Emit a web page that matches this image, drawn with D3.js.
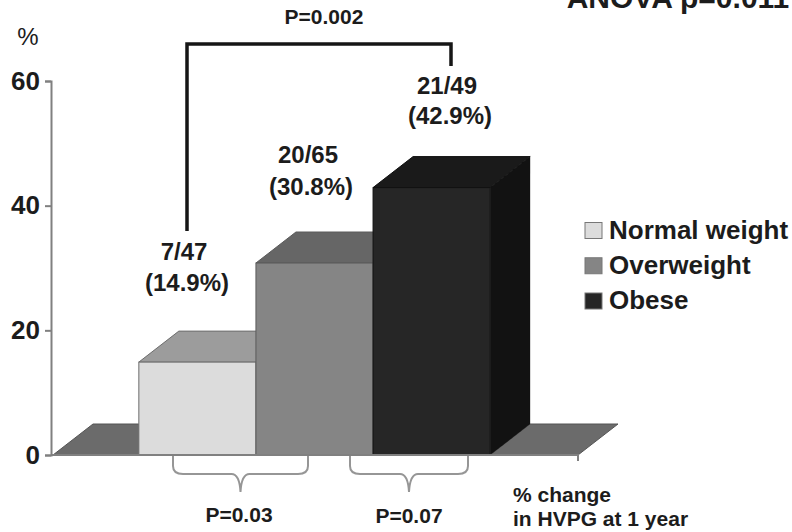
<!DOCTYPE html>
<html>
<head>
<meta charset="utf-8">
<script src="https://cdn.jsdelivr.net/npm/d3@7/dist/d3.min.js"></script>
<style>
html,body{margin:0;padding:0;background:#fff}
text{font-family:"Liberation Sans",Arial,sans-serif;font-weight:bold;fill:#1c1c1c}
</style>
</head>
<body>
<svg id="chart" width="792" height="532"></svg>
<script>
// HVPG response by body-weight group
const categories = ["Normal weight", "Overweight", "Obese"];
const percents = [14.9, 30.8, 42.9];
const counts = ["7/47", "20/65", "21/49"];
const yTicks = [0, 20, 40, 60];
const frontColors = ["#dcdcdc", "#858585", "#262626"];
const topColors = ["#9c9c9c", "#666666", "#1a1a1a"];
const sideColors = ["#a8a8a8", "#5c5c5c", "#121212"];
const edgeColors = ["#6e6e6e", "#5a5a5a", "#111111"];

const svg = d3.select("#chart");
const x = d3.scaleBand().domain(categories).range([51, 578]).paddingInner(0).paddingOuter(0.75);
const y = d3.scaleLinear().domain([0, 60]).range([455, 81]);

// Oblique offset used for the 3-D depth of bars and floor
const depthX = 40, depthY = -31;
const poly = pts => pts.map(p => p.join(",")).join(" ");
const floorColor = "#6b6b6b";

// Floor strips either side of the bars
const barsLeft = x(categories[0]);
const barsRight = x(categories[2]) + x.bandwidth();
svg.append("polygon")
  .attr("points", poly([[x.range()[0] + 2, y(0)], [x.range()[0] + 2 + depthX, y(0) + depthY], [barsLeft, y(0) + depthY], [barsLeft, y(0)]]))
  .attr("fill", floorColor).attr("stroke", "#555").attr("stroke-width", 1);
svg.append("polygon")
  .attr("points", poly([[barsRight, y(0)], [barsRight + depthX, y(0) + depthY], [x.range()[1] + depthX, y(0) + depthY], [x.range()[1], y(0)]]))
  .attr("fill", floorColor).attr("stroke", "#555").attr("stroke-width", 1);

// Axes
const yAxis = d3.axisLeft(y).tickValues(yTicks).tickSize(6).tickPadding(4);
const gy = svg.append("g").attr("transform", `translate(${x.range()[0]},0)`).call(yAxis);
gy.selectAll("path,line").attr("stroke", "#808080").attr("stroke-width", 2);
gy.selectAll("text").attr("font-size", 26).style("font-family", '"Liberation Sans",Arial,sans-serif').style("font-weight", "bold").attr("fill", "#1c1c1c").attr("dx", -1);

// Bars: side and top faces first, then the front
const bars = svg.append("g").selectAll("g").data(categories).join("g");
bars.append("polygon")
  .attr("points", (c, i) => {
    const r = x(c) + x.bandwidth(), t = y(percents[i]);
    return poly([[r, t], [r + depthX, t + depthY], [r + depthX, y(0) + depthY], [r, y(0)]]);
  })
  .attr("fill", (c, i) => sideColors[i]);
bars.append("polygon")
  .attr("points", (c, i) => {
    const l = x(c), r = l + x.bandwidth(), t = y(percents[i]);
    return poly([[l, t], [l + depthX, t + depthY], [r + depthX, t + depthY], [r, t]]);
  })
  .attr("fill", (c, i) => topColors[i]).attr("stroke", (c, i) => edgeColors[i]).attr("stroke-width", 1);
bars.append("rect")
  .attr("x", c => x(c)).attr("width", x.bandwidth())
  .attr("y", (c, i) => y(percents[i])).attr("height", (c, i) => y(0) - y(percents[i]))
  .attr("fill", (c, i) => frontColors[i]).attr("stroke", (c, i) => edgeColors[i]).attr("stroke-width", 1);

// Baseline with its end tick
svg.append("path").attr("d", d3.line()([[x.range()[0], y(0)], [x.range()[1], y(0)], [x.range()[1], y(0) + 6]]))
  .attr("fill", "none").attr("stroke", "#808080").attr("stroke-width", 2);

// Value labels: count on the first line, percentage on the second
const countCenters = [184, 308, 447];
const countBaselines = [260, 163, 94];
const percentCenters = [187, 311, 450];
const percentBaselines = [291, 195, 124];
categories.forEach((c, i) => {
  svg.append("text").attr("x", countCenters[i]).attr("y", countBaselines[i]).attr("text-anchor", "middle").attr("font-size", 24).text(counts[i]);
  svg.append("text").attr("x", percentCenters[i]).attr("y", percentBaselines[i]).attr("text-anchor", "middle").attr("font-size", 24).text(`(${percents[i]}%)`);
});

// Overall comparison bracket
svg.append("path").attr("d", "M187,231V44H451V66").attr("fill", "none").attr("stroke", "#161616").attr("stroke-width", 3.5);

// Pairwise braces beneath the axis
const brace = (x0, x1, top) => {
  const m = (x0 + x1) / 2, b = top + 18;
  return `M${x0},${top}V${b - 8}Q${x0},${b} ${x0 + 10},${b}H${m - 9}Q${m - 1},${b} ${m},${b + 18}Q${m + 1},${b} ${m + 9},${b}H${x1 - 10}Q${x1},${b} ${x1},${b - 8}V${top}`;
};
svg.append("path").attr("d", brace(173, 308, 456)).attr("fill", "none").attr("stroke", "#969696").attr("stroke-width", 2);
svg.append("path").attr("d", brace(350, 468, 456)).attr("fill", "none").attr("stroke", "#969696").attr("stroke-width", 2);

// Annotations
const notes = [
  ["%", 28, 45, 24, "middle", "normal"],
  ["P=0.002", 324, 24, 21, "middle", "bold"],
  ["ANOVA p=0.011", 678, 8, 30, "middle", "bold"],
  ["P=0.03", 239, 522, 21, "middle", "bold"],
  ["P=0.07", 409, 523, 21, "middle", "bold"],
  ["% change", 513, 502, 21, "start", "bold"],
  ["in HVPG at 1 year", 513, 526, 21, "start", "bold"]
];
svg.append("g").selectAll("text").data(notes).join("text")
  .attr("x", d => d[1]).attr("y", d => d[2]).attr("font-size", d => d[3])
  .attr("text-anchor", d => d[4]).style("font-weight", d => d[5]).text(d => d[0]);

// Legend
const legendY = d3.scalePoint().domain(categories).range([230.5, 301]);
const legend = svg.append("g").selectAll("g").data(categories).join("g");
legend.append("rect").attr("x", 585).attr("y", c => legendY(c) - 8).attr("width", 17).attr("height", 16)
  .attr("fill", (c, i) => frontColors[i]).attr("stroke", "#777").attr("stroke-width", 1);
legend.append("text").attr("x", 609).attr("y", c => legendY(c) + 8).attr("font-size", 26).text(c => c);
</script>
</body>
</html>
